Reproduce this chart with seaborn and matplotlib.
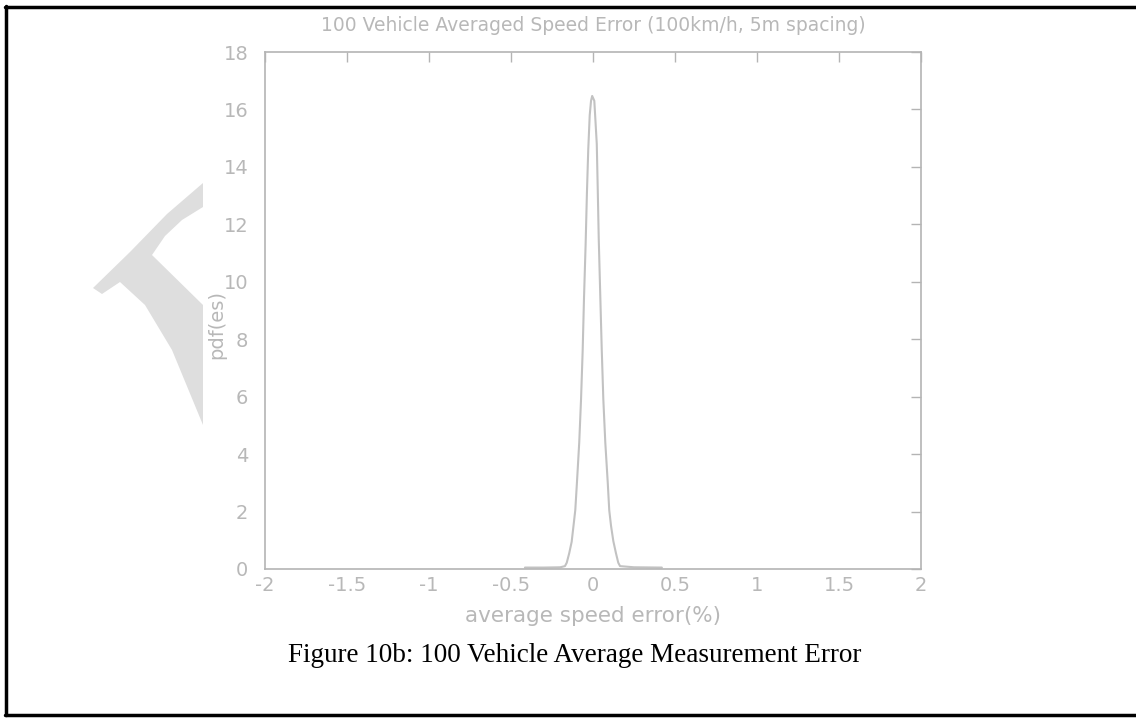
import matplotlib
matplotlib.use("Agg")
import matplotlib.pyplot as plt
import seaborn as sns
import pandas as pd
from matplotlib.lines import Line2D
from matplotlib.patches import Polygon

# pdf curve (x in %, y = pdf)
err_pct = [-0.415, -0.30, -0.20, -0.171, -0.160, -0.145, -0.130, -0.120, -0.108,
           -0.098, -0.084, -0.073, -0.063, -0.055, -0.045, -0.037, -0.029, -0.020,
           -0.012, -0.005, 0.008, 0.023, 0.029, 0.035, 0.043, 0.053, 0.063, 0.075,
           0.090, 0.099, 0.110, 0.124, 0.140, 0.154, 0.165, 0.25, 0.42]
pdf_es = [0.05, 0.05, 0.06, 0.10, 0.22, 0.55, 0.95, 1.45, 2.05,
          3.0, 4.4, 5.9, 7.6, 9.4, 11.3, 13.1, 14.6, 15.8,
          16.3, 16.47, 16.3, 14.8, 13.2, 11.5, 9.8, 7.7, 5.9, 4.4,
          3.0, 2.05, 1.5, 0.97, 0.55, 0.22, 0.10, 0.06, 0.05]

x_ticks = [-2, -1.5, -1, -0.5, 0, 0.5, 1, 1.5, 2]
x_tick_labels = ["-2", "-1.5", "-1", "-0.5", "0", "0.5", "1", "1.5", "2"]
y_ticks = [0, 2, 4, 6, 8, 10, 12, 14, 16, 18]

df = pd.DataFrame({"err": err_pct, "pdf": pdf_es})

sns.set_style("white")
plt.rcParams["font.family"] = ["DejaVu Sans"]

W, H = 1136, 719
fig = plt.figure(figsize=(W / 100, H / 100), dpi=100)
fig.patch.set_facecolor("white")

# faint watermark fragment on the left of the page
wm = [(93, 288), (130, 252), (167, 214), (203, 183), (203, 207), (182, 220),
      (165, 236), (152, 255), (203, 305), (203, 425), (172, 350), (145, 305),
      (120, 282), (102, 294)]
fig.patches.append(Polygon([(x / W, 1 - y / H) for x, y in wm], closed=True,
                           transform=fig.transFigure, facecolor="#dedede",
                           edgecolor="none", zorder=0))

# page frame
frame_kw = dict(transform=fig.transFigure, color="black", lw=2.5)
fig.add_artist(Line2D([5 / W, 1], [1 - 6.5 / H, 1 - 6.5 / H], **frame_kw))
fig.add_artist(Line2D([5.5 / W, 5.5 / W], [1 - 6 / H, 1 - 715 / H], **frame_kw))
fig.add_artist(Line2D([5 / W, 1], [1 - 715 / H, 1 - 715 / H], **frame_kw))

gray = "#b4b4b4"
txt = "#b8b8b8"

ax = fig.add_axes([265 / W, 1 - 569 / H, (921 - 265) / W, (569 - 52) / H])
ax.set_facecolor("white")
sns.lineplot(data=df, x="err", y="pdf", ax=ax, color="#c2c2c2", lw=1.5,
             sort=False, estimator=None)

ax.set_xlim(-2, 2)
ax.set_ylim(0, 18)
ax.set_xticks(x_ticks)
ax.set_xticklabels(x_tick_labels)
ax.set_yticks(y_ticks)
ax.tick_params(direction="in", length=7, width=1, color=gray, labelcolor=txt,
               labelsize=14, top=True, right=True)
ax.tick_params(axis="x", pad=5)
ax.tick_params(axis="y", pad=12)
for s in ax.spines.values():
    s.set_color(gray)
    s.set_linewidth(1.2)
    s.set_visible(True)

ax.set_title("100 Vehicle Averaged Speed Error (100km/h, 5m spacing)",
             color=txt, fontsize=13.5, pad=15)
ax.set_xlabel("average speed error(%)", color=txt, fontsize=15.5, labelpad=8)
ax.set_ylabel("pdf(es)", color=txt, fontsize=14)
ax.yaxis.set_label_coords(-0.059, 0.472)

fig.text(575 / W, 1 - 655 / H, "Figure 10b: 100 Vehicle Average Measurement Error",
         ha="center", va="center", fontsize=19.5, color="black",
         family=["Liberation Serif", "DejaVu Serif"])

fig.savefig("out.png", dpi=100)
